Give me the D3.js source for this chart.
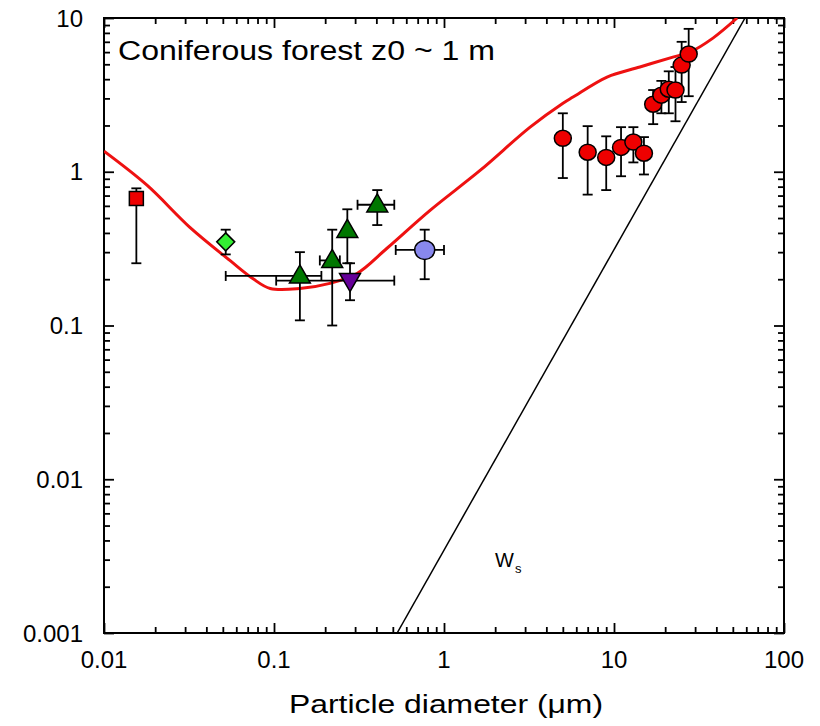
<!DOCTYPE html>
<html>
<head>
<meta charset="utf-8">
<script src="https://cdn.jsdelivr.net/npm/d3@7"></script>
<style>
  body { margin: 0; background: #fff; }
  text { font-family: "Liberation Sans", Arial, sans-serif; }
</style>
</head>
<body>
<div id="chart"></div>
<script>
// Axis tick values
var xTicks = [0.01, 0.1, 1, 10, 100];
var yTicks = [0.001, 0.01, 0.1, 1, 10];

// Red model curve (diameter, deposition velocity)
var curveD = [0.01, 0.0179, 0.032, 0.055, 0.075, 0.095, 0.142, 0.213, 0.308, 0.462, 0.828, 1.63, 3.21, 5.01, 5.74, 9.1, 14.2, 22.2, 28, 38.2, 53];
var curveV = [1.36, 0.817, 0.435, 0.265, 0.202, 0.174, 0.174, 0.188, 0.218, 0.318, 0.561, 1.02, 1.95, 2.79, 3.06, 4.13, 4.8, 5.57, 6.0, 7.4, 10];

// Settling velocity line Ws
var wsD = [0.53, 59];
var wsV = [0.001, 10];

// Red circles (coarse particles)
var circD = [5, 7, 9, 11, 13, 15, 17, 19, 21, 23, 25, 27.5];
var circV = [1.65, 1.34, 1.24, 1.44, 1.56, 1.32, 2.75, 3.15, 3.44, 3.4, 4.94, 5.83];
var circLo = [0.91, 0.71, 0.76, 0.935, 1.15, 0.96, 2.04, 2.4, 2.4, 2.13, 2.84, 3.1];
var circHi = [2.4, 1.98, 1.7, 1.95, 1.95, 1.68, 3.4, 3.9, 4.5, 4.8, 7.0, 8.5];

// Green triangles
var triD = [0.142, 0.22, 0.27, 0.405];
var triV = [0.21, 0.265, 0.416, 0.61];
var triLo = [0.108, 0.10, 0.254, 0.45];
var triHi = [0.30, 0.42, 0.57, 0.76];
var triXLo = [0.052, 0.186, null, 0.31];
var triXHi = [0.19, 0.244, null, 0.51];

// Other single observations
var singles = [
  { shape: "square", d: 0.0155, v: 0.67, lo: 0.254, hi: 0.78, xlo: null, xhi: null, fill: "#ee0000" },
  { shape: "diamond", d: 0.052, v: 0.35, lo: 0.29, hi: 0.42, xlo: null, xhi: null, fill: "#33ee33" },
  { shape: "down", d: 0.28, v: 0.196, lo: 0.146, hi: 0.254, xlo: 0.103, xhi: 0.51, fill: "#660099" },
  { shape: "circle", d: 0.77, v: 0.31, lo: 0.20, hi: 0.42, xlo: 0.52, xhi: 1.0, fill: "#8888ee" }
];

var width = 820, height = 726;
var marginLeft = 104, marginRight = 36, marginTop = 18, marginBottom = 93;
var plotW = width - marginLeft - marginRight;
var plotH = height - marginTop - marginBottom;

var svg = d3.select("#chart").append("svg")
  .attr("width", width)
  .attr("height", height);

var x = d3.scaleLog().domain([0.01, 100]).range([marginLeft, marginLeft + plotW]);
var y = d3.scaleLog().domain([0.001, 10]).range([marginTop + plotH, marginTop]);

// Clip for lines
svg.append("clipPath").attr("id", "clip")
  .append("rect")
  .attr("x", marginLeft).attr("y", marginTop)
  .attr("width", plotW).attr("height", plotH);

// Minor tick positions (2..9 of every decade)
function minorTicks(lo, hi) {
  var out = [];
  for (var e = Math.round(Math.log10(lo)); e < Math.round(Math.log10(hi)); e++) {
    for (var m = 2; m < 10; m++) out.push(m * Math.pow(10, e));
  }
  return out;
}
var xMinor = minorTicks(0.01, 100);
var yMinor = minorTicks(0.001, 10);

// Inward ticks on all four sides with d3 axes
function drawAxis(axisFn, scale, values, len, tx, ty) {
  var g = svg.append("g")
    .attr("transform", "translate(" + tx + "," + ty + ")")
    .call(axisFn(scale).tickValues(values).tickSize(-len).tickFormat(""));
  g.select(".domain").remove();
  g.selectAll(".tick line").attr("stroke", "#000").attr("stroke-width", 1.8);
  return g;
}
var bottomY = marginTop + plotH, rightX = marginLeft + plotW;
drawAxis(d3.axisBottom, x, xTicks, 10, 0, bottomY);
drawAxis(d3.axisBottom, x, xMinor, 6, 0, bottomY);
drawAxis(d3.axisTop, x, xTicks, 10, 0, marginTop);
drawAxis(d3.axisTop, x, xMinor, 6, 0, marginTop);
drawAxis(d3.axisLeft, y, yTicks, 10, marginLeft, 0);
drawAxis(d3.axisLeft, y, yMinor, 6, marginLeft, 0);
drawAxis(d3.axisRight, y, yTicks, 10, rightX, 0);
drawAxis(d3.axisRight, y, yMinor, 6, rightX, 0);

// Frame
svg.append("rect")
  .attr("x", marginLeft).attr("y", marginTop)
  .attr("width", plotW).attr("height", plotH)
  .attr("fill", "none").attr("stroke", "#000").attr("stroke-width", 2);

// Tick labels
svg.selectAll(".xlab").data(xTicks).enter().append("text")
  .attr("x", function(d) { return x(d); })
  .attr("y", marginTop + plotH + 35)
  .attr("text-anchor", "middle")
  .attr("font-size", "24px")
  .text(function(d) { return d; });

svg.selectAll(".ylab").data(yTicks).enter().append("text")
  .attr("x", marginLeft - 21)
  .attr("y", function(d) { return y(d) + 8.5; })
  .attr("text-anchor", "end")
  .attr("font-size", "24px")
  .text(function(d) { return d; });

// Axis title
svg.append("text")
  .attr("x", 289)
  .attr("y", 713)
  .attr("font-size", "25px")
  .attr("textLength", 314)
  .attr("lengthAdjust", "spacingAndGlyphs")
  .text("Particle diameter (\u03bcm)");

// Ws line
var plot = svg.append("g").attr("clip-path", "url(#clip)");
var wsLine = d3.line()
  .x(function(d, i) { return x(wsD[i]); })
  .y(function(d, i) { return y(wsV[i]); });
plot.append("path")
  .attr("d", wsLine(wsD))
  .attr("fill", "none").attr("stroke", "#000").attr("stroke-width", 1.5);

// Red model curve
var modelLine = d3.line()
  .x(function(d, i) { return x(curveD[i]); })
  .y(function(d, i) { return y(curveV[i]); })
  .curve(d3.curveCatmullRom);
plot.append("path")
  .attr("d", modelLine(curveD))
  .attr("fill", "none").attr("stroke", "#ee1111").attr("stroke-width", 3);

// Error bars helper
var errG = svg.append("g").attr("stroke", "#000").attr("stroke-width", 1.8);
var cap = 5;
function vErr(d, lo, hi) {
  var px = x(d);
  errG.append("line").attr("x1", px).attr("x2", px).attr("y1", y(lo)).attr("y2", y(hi));
  errG.append("line").attr("x1", px - cap).attr("x2", px + cap).attr("y1", y(lo)).attr("y2", y(lo));
  errG.append("line").attr("x1", px - cap).attr("x2", px + cap).attr("y1", y(hi)).attr("y2", y(hi));
}
function hErr(v, lo, hi) {
  var py = y(v);
  errG.append("line").attr("y1", py).attr("y2", py).attr("x1", x(lo)).attr("x2", x(hi));
  errG.append("line").attr("y1", py - cap).attr("y2", py + cap).attr("x1", x(lo)).attr("x2", x(lo));
  errG.append("line").attr("y1", py - cap).attr("y2", py + cap).attr("x1", x(hi)).attr("x2", x(hi));
}

circD.forEach(function(d, i) { vErr(d, circLo[i], circHi[i]); });
triD.forEach(function(d, i) {
  vErr(d, triLo[i], triHi[i]);
  if (triXLo[i] != null) hErr(triV[i], triXLo[i], triXHi[i]);
});
singles.forEach(function(s) {
  vErr(s.d, s.lo, s.hi);
  if (s.xlo != null) hErr(s.v, s.xlo, s.xhi);
});

// Markers
var markG = svg.append("g").attr("stroke", "#000").attr("stroke-width", 1.5);
function triPath(cx, cy, r, down) {
  var s = down ? -1 : 1;
  return "M" + cx + "," + (cy - s * r) +
    "L" + (cx + r * 0.95) + "," + (cy + s * r * 0.65) +
    "L" + (cx - r * 0.95) + "," + (cy + s * r * 0.65) + "Z";
}

singles.forEach(function(s) {
  var cx = x(s.d), cy = y(s.v);
  if (s.shape === "square") {
    markG.append("rect").attr("x", cx - 7).attr("y", cy - 7)
      .attr("width", 14).attr("height", 14).attr("fill", s.fill);
  } else if (s.shape === "diamond") {
    markG.append("path")
      .attr("d", "M" + cx + "," + (cy - 9) + "L" + (cx + 9) + "," + cy + "L" + cx + "," + (cy + 9) + "L" + (cx - 9) + "," + cy + "Z")
      .attr("fill", s.fill);
  } else if (s.shape === "down") {
    markG.append("path").attr("d", triPath(cx, cy, 11, true)).attr("fill", s.fill);
  } else {
    markG.append("ellipse").attr("cx", cx).attr("cy", cy)
      .attr("rx", 10).attr("ry", 9.5).attr("fill", s.fill);
  }
});

triD.forEach(function(d, i) {
  markG.append("path").attr("d", triPath(x(d), y(triV[i]), 11, false)).attr("fill", "#007700");
});

circD.forEach(function(d, i) {
  markG.append("ellipse")
    .attr("cx", x(d)).attr("cy", y(circV[i]))
    .attr("rx", 8.5).attr("ry", 8)
    .attr("fill", "#ee0000");
});

// Annotations
svg.append("text")
  .attr("x", 118).attr("y", 60)
  .attr("font-size", "27px")
  .attr("textLength", 377)
  .attr("lengthAdjust", "spacingAndGlyphs")
  .text("Coniferous forest z0 ~ 1 m");

var ws = svg.append("text")
  .attr("x", 495).attr("y", 567)
  .attr("font-size", "20px");
ws.append("tspan").text("W");
ws.append("tspan").attr("font-size", "13px").attr("dx", 1).attr("dy", 6).text("s");
</script>
</body>
</html>
